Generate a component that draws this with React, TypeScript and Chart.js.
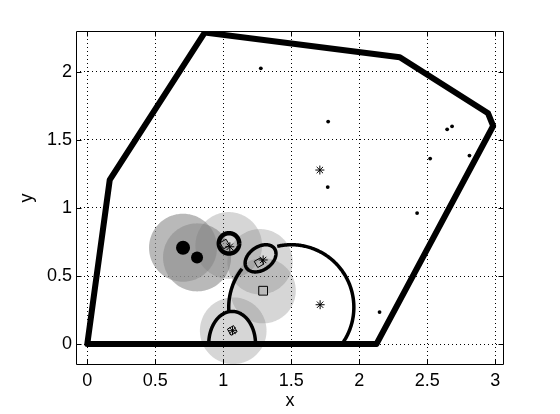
import React, { useEffect, useRef } from 'react';
import { Chart, registerables } from 'chart.js';
Chart.register(...registerables);

// ---- axes ----
const xTicks = [0, 0.5, 1, 1.5, 2, 2.5, 3];
const yTicks = [0, 0.5, 1, 1.5, 2];
const xMin = -0.083, xMax = 3.064;
const yMin = -0.154, yMax = 2.301;

// ---- convex hull (thick polygon) ----
const hullX = [0, 0.165, 0.864, 2.298, 2.947, 2.984, 2.126, 0];
const hullY = [0, 1.206, 2.29, 2.108, 1.696, 1.603, 0, 0];

// ---- small dots ----
const dotX = [1.276, 1.771, 2.646, 2.682, 2.521, 2.81, 1.768, 2.425, 2.149];
const dotY = [2.027, 1.635, 1.578, 1.6, 1.363, 1.385, 1.154, 0.963, 0.235];

// ---- asterisks ----
const starX = [1.71, 1.712, 1.048, 1.293, 1.068];
const starY = [1.279, 0.289, 0.715, 0.618, 0.098];

// ---- diamonds ----
const diamondX = [1.011, 1.263, 1.066];
const diamondY = [0.735, 0.598, 0.1];

// ---- square ----
const squareX = [1.293];
const squareY = [0.392];

// ---- big filled dots ----
const bigDotX = [0.704, 0.807];
const bigDotY = [0.708, 0.637];

// ---- shaded discs (centre, radius) ----
const discX = [0.704, 0.807, 1.04, 1.27, 1.293, 1.073];
const discY = [0.708, 0.637, 0.725, 0.605, 0.392, 0.098];
const discR = [0.25, 0.25, 0.245, 0.24, 0.24, 0.245];

// ---- boundary curves: elliptical arcs (centre, semi-axes, rotation, from/to angle in degrees) ----
const curveCX = [1.5, 1.5, 1.065, 1.042, 1.274];
const curveCY = [0.27, 0.27, 0, 0.74, 0.63];
const curveA = [0.46, 0.46, 0.172, 0.075, 0.125];
const curveB = [0.46, 0.46, 0.24, 0.075, 0.085];
const curveRot = [0, 0, 0, 0, 35];
const curveFrom = [-37, 142, 0, 0, 0];
const curveTo = [103, 184, 180, 360, 360];

const toPts = (xs: number[], ys: number[]) => xs.map((x, i) => ({ x, y: ys[i] }));

function pathFromData(chart: any, pts: [number, number][]) {
  const { ctx, scales } = chart;
  ctx.beginPath();
  pts.forEach(([x, y], i) => {
    const px = scales.x.getPixelForValue(x);
    const py = scales.y.getPixelForValue(y);
    if (i === 0) ctx.moveTo(px, py);
    else ctx.lineTo(px, py);
  });
}

function ellipseArc(cx: number, cy: number, a: number, b: number, rotDeg: number, a0: number, a1: number): [number, number][] {
  const n = 160;
  const th = (rotDeg * Math.PI) / 180;
  const out: [number, number][] = [];
  for (let i = 0; i <= n; i++) {
    const t = ((a0 + ((a1 - a0) * i) / n) * Math.PI) / 180;
    const ex = a * Math.cos(t), ey = b * Math.sin(t);
    out.push([cx + ex * Math.cos(th) - ey * Math.sin(th), cy + ex * Math.sin(th) + ey * Math.cos(th)]);
  }
  return out;
}

const overlayPlugin = {
  id: 'overlay',
  beforeDatasetsDraw(chart: any) {
    const { ctx, chartArea: ca } = chart;
    ctx.save();
    ctx.beginPath();
    ctx.rect(ca.left, ca.top, ca.right - ca.left, ca.bottom - ca.top);
    ctx.clip();
    // discs
    discX.forEach((cx, i) => {
      pathFromData(chart, ellipseArc(cx, discY[i], discR[i], discR[i], 0, 0, 360));
      ctx.closePath();
      ctx.fillStyle = i < 2 ? 'rgba(145,145,145,0.64)' : 'rgba(120,120,120,0.3)';
      ctx.fill();
    });
    // curves
    ctx.strokeStyle = '#000';
    ctx.lineCap = 'butt';
    ctx.lineJoin = 'round';
    curveCX.forEach((cx, i) => {
      pathFromData(chart, ellipseArc(cx, curveCY[i], curveA[i], curveB[i], curveRot[i], curveFrom[i], curveTo[i]));
      ctx.lineWidth = i === 3 ? 4.5 : 3.5;
      ctx.stroke();
    });
    ctx.restore();
  },
  afterDraw(chart: any) {
    const { ctx, chartArea: ca, scales } = chart;
    ctx.save();
    ctx.strokeStyle = '#000';
    ctx.lineWidth = 1;
    const L = ca.left + 0.5, R = ca.right - 0.5, T = ca.top + 0.5, B = ca.bottom - 0.5;
    ctx.beginPath();
    ctx.rect(L, T, R - L, B - T);
    xTicks.forEach((v) => {
      const px = Math.round(scales.x.getPixelForValue(v)) + 0.5;
      ctx.moveTo(px, B); ctx.lineTo(px, B - 5);
      ctx.moveTo(px, T); ctx.lineTo(px, T + 5);
    });
    yTicks.forEach((v) => {
      const py = Math.round(scales.y.getPixelForValue(v)) + 0.5;
      ctx.moveTo(L, py); ctx.lineTo(L + 5, py);
      ctx.moveTo(R, py); ctx.lineTo(R - 5, py);
    });
    ctx.stroke();
    ctx.restore();
  },
};

const FONT = 'Liberation Sans, Arial, Helvetica, sans-serif';

export default function App() {
  const ref = useRef<HTMLCanvasElement>(null);
  useEffect(() => {
    Chart.defaults.font.family = FONT;
    const axisCommon = (ticks: number[]) => ({
      type: 'linear' as const,
      afterBuildTicks: (s: any) => {
        s.ticks = ticks.map((v) => ({ value: v }));
      },
      grid: { color: '#000', lineWidth: 1, drawTicks: false },
      border: { display: false, dash: [1, 3] },
    });
    const tickFont = {
      font: { size: 18, family: FONT },
      color: '#000',
      autoSkip: false,
      maxRotation: 0,
      callback: (v: any) => String(v),
    };
    const chart = new Chart(ref.current!, {
      type: 'scatter',
      data: {
        datasets: [
          {
            data: toPts(hullX, hullY),
            showLine: true,
            borderColor: '#000',
            borderWidth: 6,
            pointRadius: 0,
            borderJoinStyle: 'round',
            borderCapStyle: 'round',
            clip: 0,
          } as any,
          {
            data: toPts(dotX, dotY),
            pointRadius: 1.9,
            pointStyle: 'circle',
            backgroundColor: '#000',
            borderColor: '#000',
            borderWidth: 0,
          },
          {
            data: toPts(bigDotX, bigDotY),
            pointRadius: [7, 6],
            pointStyle: 'circle',
            backgroundColor: '#000',
            borderColor: '#000',
            borderWidth: 0,
          },
          {
            data: toPts(bigDotX.slice(1), bigDotY.slice(1)),
            pointRadius: 1.3,
            pointStyle: 'circle',
            backgroundColor: '#777',
            borderWidth: 0,
          },
          {
            data: toPts(diamondX, diamondY),
            pointRadius: 5,
            pointStyle: 'rectRot',
            pointRotation: 15,
            backgroundColor: 'rgba(0,0,0,0)',
            borderColor: '#000',
            borderWidth: 1,
          },
          {
            data: toPts(squareX, squareY),
            pointRadius: 6.2,
            pointStyle: 'rect',
            backgroundColor: 'rgba(0,0,0,0)',
            borderColor: '#000',
            borderWidth: 1,
          },
          {
            data: toPts(starX, starY),
            pointRadius: 4.5,
            pointStyle: 'star',
            backgroundColor: 'rgba(0,0,0,0)',
            borderColor: '#000',
            borderWidth: 1,
          },
        ],
      },
      options: {
        responsive: false,
        animation: false,
        devicePixelRatio: 1,
        events: [],
        layout: { padding: { top: 31, right: 56, left: 0, bottom: 0 } },
        plugins: { legend: { display: false }, tooltip: { enabled: false } },
        scales: {
          x: {
            ...axisCommon(xTicks),
            min: xMin,
            max: xMax,
            afterFit: (s: any) => {
              s.height = 49;
            },
            ticks: { ...tickFont, padding: 5 },
            title: { display: true, text: 'x', color: '#000', font: { size: 18, family: FONT }, padding: { top: 0, bottom: 2 } },
          },
          y: {
            ...axisCommon(yTicks),
            min: yMin,
            max: yMax,
            afterFit: (s: any) => {
              s.width = 76;
            },
            ticks: { ...tickFont, padding: 4 },
            title: { display: true, text: 'y', color: '#000', font: { size: 18, family: FONT }, padding: { top: 16, bottom: 0 } },
          },
        },
      } as any,
      plugins: [overlayPlugin],
    });
    return () => chart.destroy();
  }, []);
  return (
    <div style={{ position: 'absolute', left: 0, top: 0, width: 560, height: 414, background: '#fff' }}>
      <canvas ref={ref} width={560} height={414} style={{ display: 'block', width: 560, height: 414 }} />
    </div>
  );
}
